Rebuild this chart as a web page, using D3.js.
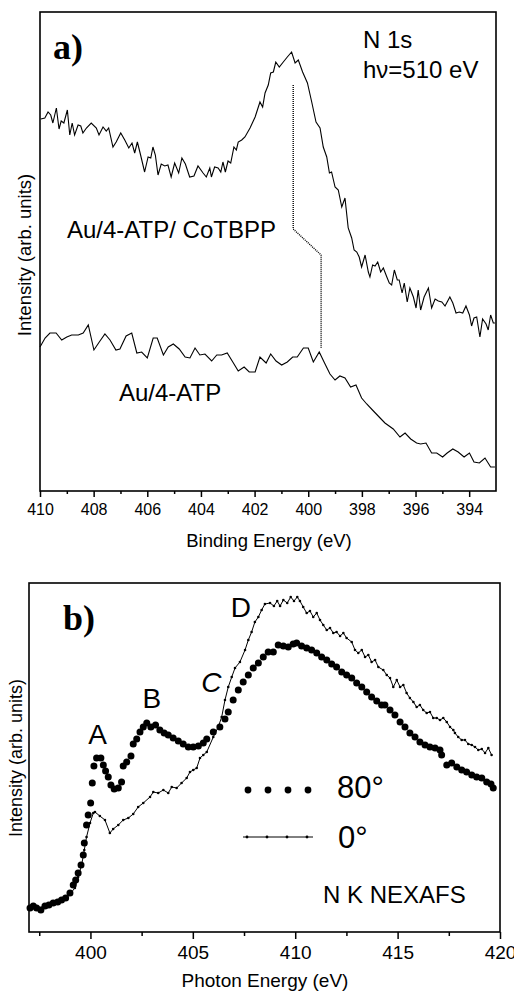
<!DOCTYPE html>
<html>
<head>
<meta charset="utf-8">
<script src="https://cdn.jsdelivr.net/npm/d3@7"></script>
<style>
body { margin: 0; background: #fff; }
text { font-family: "Liberation Sans", Arial, sans-serif; fill: #000; }
</style>
</head>
<body>
<div class="d3"></div>
<script>
// panel a: N 1s XPS, binding energy (eV) vs intensity (arb. units)
var cotbppE = [409.97,409.82,409.70,409.60,409.52,409.39,409.29,409.21,409.11,408.98,408.89,408.80,408.71,408.58,408.48,408.40,408.27,408.09,407.90,407.80,407.65,407.53,407.44,407.28,407.16,406.99,406.84,406.69,406.57,406.47,406.37,406.25,406.10,405.97,405.87,405.79,405.70,405.60,405.48,405.35,405.23,405.11,404.98,404.83,404.71,404.58,404.42,404.26,404.11,403.92,403.80,403.67,403.61,403.49,403.36,403.26,403.18,403.09,402.99,402.89,402.77,402.68,402.61,402.48,402.36,402.17,401.98,401.80,401.70,401.61,401.49,401.40,401.30,401.21,401.08,400.93,400.78,400.62,400.49,400.37,400.21,400.03,399.87,399.71,399.56,399.44,399.31,399.21,399.13,399.00,398.88,398.75,398.63,398.51,398.38,398.29,398.19,398.10,398.01,397.88,397.76,397.70,397.60,397.51,397.41,397.30,397.20,397.07,396.98,396.89,396.79,396.68,396.61,396.50,396.42,396.31,396.21,396.08,395.98,395.90,395.81,395.68,395.52,395.40,395.27,395.15,395.02,394.90,394.72,394.61,394.49,394.37,394.24,394.12,393.99,393.91,393.82,393.72,393.60,393.50,393.37,393.29,393.20,393.10,393.04];
var cotbppI = [372,373,379,376,368,383,362,370,368,381,356,368,356,366,365,358,363,368,363,356,364,360,363,344,349,358,351,343,348,338,349,336,319,334,333,344,336,316,327,325,326,314,328,318,333,327,314,315,325,318,314,323,314,324,323,319,329,319,330,328,344,341,349,351,354,363,374,389,384,398,406,418,419,429,424,429,434,439,428,431,419,408,389,369,363,344,334,318,319,304,301,284,293,263,253,241,239,234,224,236,219,214,226,225,229,219,223,214,208,206,221,211,211,198,208,189,203,194,183,201,181,194,203,183,192,190,189,185,194,188,178,179,178,185,176,165,173,174,154,172,167,161,176,168,168];
var atpE = [410.00,409.81,409.63,409.40,409.19,409.00,408.82,408.57,408.39,408.20,407.99,407.79,407.58,407.39,407.17,407.02,406.79,406.58,406.39,406.21,406.00,405.78,405.63,405.40,405.22,405.03,404.81,404.59,404.41,404.22,404.04,403.85,403.60,403.41,403.23,403.02,402.79,402.61,402.39,402.20,401.98,401.80,401.57,401.40,401.20,400.99,400.78,400.58,400.41,400.18,400.00,399.81,399.59,399.41,399.19,399.00,398.82,398.63,398.42,398.22,398.01,397.82,397.57,397.32,397.14,396.83,396.58,396.39,396.18,395.96,395.81,395.61,395.40,395.21,394.99,394.82,394.61,394.41,394.19,393.99,393.82,393.62,393.41,393.20,393.04];
var atpI = [144,153,158,158,151,154,156,156,158,166,141,149,157,151,141,142,155,158,138,139,133,153,153,136,144,147,142,134,133,143,136,137,130,136,136,138,128,120,124,119,119,134,128,137,130,126,129,134,134,143,143,129,139,129,117,111,115,113,104,106,93,87,80,73,68,62,54,58,52,48,47,48,38,38,34,38,42,39,34,38,29,28,33,24,24];
var shiftE = [400.56, 400.56, 399.52, 399.52];
var shiftI = [406, 262, 236, 143];
var aMajor = [410, 408, 406, 404, 402, 400, 398, 396, 394];
var aMinor = [409, 407, 405, 403, 401, 399, 397, 395];

// panel b: N K NEXAFS, photon energy (eV)
var e80 = [397.05,397.21,397.37,397.58,397.78,397.97,398.18,398.40,398.59,398.79,399.00,399.16,399.28,399.40,399.54,399.65,399.70,399.81,399.89,400.01,400.09,400.17,400.30,400.51,400.63,400.74,400.87,401.00,401.16,401.36,401.52,401.60,401.77,401.98,402.09,402.26,402.42,402.58,402.75,402.95,403.18,403.39,403.60,403.80,404.04,404.29,404.53,404.78,405.02,405.27,405.51,405.68,406.00,406.32,406.57,406.73,406.97,407.22,407.46,407.71,407.95,408.20,408.44,408.68,408.93,409.17,409.42,409.66,409.90,410.07,410.31,410.56,410.80,411.05,411.29,411.54,411.78,412.02,412.27,412.51,412.76,413.00,413.25,413.49,413.73,413.98,414.22,414.38,414.63,414.87,415.12,415.36,415.60,415.85,416.09,416.34,416.58,416.83,417.07,417.15,417.40,417.64,417.89,418.13,418.37,418.62,418.86,419.11,419.35,419.56,419.67];
var i80 = [24,26,24,22,26,27,29,30,32,34,39,47,52,59,67,77,89,107,117,129,149,166,174,174,167,161,155,147,143,144,150,166,170,176,188,193,200,205,209,205,207,202,199,197,194,191,188,185,185,186,189,193,200,205,213,220,232,242,250,257,264,269,275,280,280,287,286,285,288,289,286,284,282,279,275,272,268,265,260,257,254,249,245,240,235,231,227,227,222,217,210,205,199,195,190,187,185,184,182,177,167,169,165,162,160,157,155,154,150,148,144];
var e0 = [397.05,397.29,397.53,397.78,398.02,398.27,398.51,398.75,399.00,399.24,399.40,399.57,399.70,399.81,399.98,400.14,400.22,400.46,400.71,400.95,401.11,401.36,401.60,401.85,402.09,402.33,402.58,402.91,403.07,403.31,403.56,403.80,403.97,404.21,404.45,404.70,404.86,405.02,405.19,405.35,405.51,405.68,406.00,406.24,406.41,406.57,406.73,406.90,407.06,407.30,407.55,407.71,407.87,408.03,408.20,408.36,408.52,408.77,408.96,409.12,409.26,409.42,409.61,409.78,409.94,410.10,410.23,410.39,410.56,410.72,410.88,411.05,411.21,411.37,411.54,411.70,411.86,412.02,412.19,412.35,412.51,412.76,412.92,413.08,413.25,413.41,413.57,413.73,413.90,414.06,414.30,414.47,414.63,414.79,414.96,415.12,415.28,415.44,415.60,415.77,415.93,416.09,416.25,416.42,416.58,416.74,416.91,417.07,417.23,417.40,417.56,417.72,417.80,417.96,418.13,418.29,418.45,418.62,418.78,418.94,419.11,419.27,419.43,419.59];
var i0 = [23,26,24,27,28,30,31,34,38,44,55,67,82,95,109,119,120,116,112,99,103,107,112,114,118,125,129,135,140,139,142,139,145,144,149,154,160,162,164,174,177,180,195,205,215,232,245,255,264,270,282,292,300,310,315,322,328,329,326,331,326,332,329,335,331,335,331,325,319,321,315,319,312,307,302,304,299,300,296,299,294,290,282,279,282,275,277,270,272,265,262,257,254,245,252,245,247,239,234,230,225,227,222,219,220,214,214,212,214,210,205,202,199,195,192,192,188,187,185,182,183,179,184,177];
var bMajor = [400, 405, 410, 415, 420];
var bMinor = [397.5, 402.5, 407.5, 412.5, 417.5];

var width = 514, height = 993;

var svg = d3.select(".d3").append("svg")
    .attr("width", width)
    .attr("height", height);

// ---------- panel a ----------
var xa = d3.scaleLinear().domain([410, 393]).range([40, 496]);
var ya = d3.scaleLinear().domain([0, 479]).range([491, 12]);

var lineA = d3.line()
    .x(function(d) { return xa(d[0]); })
    .y(function(d) { return ya(d[1]); });

var ga = svg.append("g").attr("class", "panel-a");

ga.append("path")
    .datum(d3.zip(cotbppE, cotbppI))
    .attr("d", lineA)
    .attr("fill", "none")
    .attr("stroke", "#000")
    .attr("stroke-width", 1.1);

ga.append("path")
    .datum(d3.zip(atpE, atpI))
    .attr("d", lineA)
    .attr("fill", "none")
    .attr("stroke", "#000")
    .attr("stroke-width", 1.1);

ga.append("path")
    .datum(d3.zip(shiftE, shiftI))
    .attr("d", lineA)
    .attr("fill", "none")
    .attr("stroke", "#000")
    .attr("stroke-width", 1.4)
    .attr("stroke-dasharray", "1,1");

ga.append("g")
    .attr("transform", "translate(0," + ya(0) + ")")
    .call(d3.axisBottom(xa).tickValues(aMajor).tickFormat(d3.format("d"))
        .tickSize(6).tickSizeOuter(0).tickPadding(7))
    .call(function(g) { g.select(".domain").remove(); })
    .call(function(g) {
        g.selectAll("line").attr("stroke-width", 1.5);
        g.selectAll("text").style("font-family", "Liberation Sans, Arial, sans-serif").style("font-size", "16px");
    });

ga.append("g")
    .attr("transform", "translate(0," + ya(0) + ")")
    .call(d3.axisBottom(xa).tickValues(aMinor).tickFormat("").tickSize(3).tickSizeOuter(0))
    .call(function(g) { g.select(".domain").remove(); g.selectAll("line").attr("stroke-width", 1.5); });

ga.append("rect")
    .attr("x", xa(410)).attr("y", ya(479))
    .attr("width", xa(393) - xa(410)).attr("height", ya(0) - ya(479))
    .attr("fill", "none").attr("stroke", "#000").attr("stroke-width", 1.6);

ga.append("text").attr("x", 53).attr("y", 59)
    .style("font-family", "Liberation Serif, Times New Roman, serif")
    .style("font-weight", "bold").style("font-size", "36px")
    .text("a)");
ga.append("text").attr("x", 363).attr("y", 48).style("font-size", "24px").text("N 1s");
ga.append("text").attr("x", 363).attr("y", 78).style("font-size", "24px").text("h\u03bd=510 eV");
ga.append("text").attr("x", 67).attr("y", 238).style("font-size", "24px").text("Au/4-ATP/ CoTBPP");
ga.append("text").attr("x", 119).attr("y", 401).style("font-size", "24px").text("Au/4-ATP");

ga.append("text")
    .attr("x", 269).attr("y", 547)
    .attr("text-anchor", "middle")
    .style("font-size", "18.5px")
    .text("Binding Energy (eV)");

ga.append("text")
    .attr("transform", "translate(31,255) rotate(-90)")
    .attr("text-anchor", "middle")
    .style("font-size", "18.5px")
    .text("Intensity (arb. units)");

// ---------- panel b ----------
var xb = d3.scaleLinear().domain([397, 420]).range([29, 500]);
var yb = d3.scaleLinear().domain([0, 349]).range([932, 583]);

var lineB = d3.line()
    .x(function(d) { return xb(d[0]); })
    .y(function(d) { return yb(d[1]); });

var gb = svg.append("g").attr("class", "panel-b");

gb.append("path")
    .datum(d3.zip(e0, i0))
    .attr("d", lineB)
    .attr("fill", "none")
    .attr("stroke", "#000")
    .attr("stroke-width", 1);

gb.selectAll(".dot0")
    .data(d3.zip(e0, i0))
  .enter().append("circle")
    .attr("class", "dot0")
    .attr("cx", function(d) { return xb(d[0]); })
    .attr("cy", function(d) { return yb(d[1]); })
    .attr("r", 1.3)
    .attr("fill", "#000");

gb.selectAll(".dot80")
    .data(d3.zip(e80, i80))
  .enter().append("circle")
    .attr("class", "dot80")
    .attr("cx", function(d) { return xb(d[0]); })
    .attr("cy", function(d) { return yb(d[1]); })
    .attr("r", 3.5)
    .attr("fill", "#000");

gb.append("g")
    .attr("transform", "translate(0," + yb(0) + ")")
    .call(d3.axisBottom(xb).tickValues(bMajor).tickFormat(d3.format("d"))
        .tickSize(7).tickSizeOuter(0).tickPadding(6.5))
    .call(function(g) { g.select(".domain").remove(); })
    .call(function(g) {
        g.selectAll("line").attr("stroke-width", 1.5);
        g.selectAll("text").style("font-family", "Liberation Sans, Arial, sans-serif").style("font-size", "19px");
    });

gb.append("g")
    .attr("transform", "translate(0," + yb(0) + ")")
    .call(d3.axisBottom(xb).tickValues(bMinor).tickFormat("").tickSize(4).tickSizeOuter(0))
    .call(function(g) { g.select(".domain").remove(); g.selectAll("line").attr("stroke-width", 1.5); });

gb.append("rect")
    .attr("x", xb(397)).attr("y", yb(349))
    .attr("width", xb(420) - xb(397)).attr("height", yb(0) - yb(349))
    .attr("fill", "none").attr("stroke", "#000").attr("stroke-width", 1.6);

gb.append("text").attr("x", 63).attr("y", 630)
    .style("font-family", "Liberation Serif, Times New Roman, serif")
    .style("font-weight", "bold").style("font-size", "36px")
    .text("b)");

var peaks = [
    {t: "A", e: 400.35, i: 188, italic: false},
    {t: "B", e: 403.0, i: 224, italic: false},
    {t: "C", e: 405.9, i: 240, italic: true},
    {t: "D", e: 407.35, i: 315, italic: false}
];
gb.selectAll(".peak")
    .data(peaks)
  .enter().append("text")
    .attr("class", "peak")
    .attr("x", function(d) { return xb(d.e); })
    .attr("y", function(d) { return yb(d.i); })
    .attr("text-anchor", "middle")
    .style("font-size", "28px")
    .style("font-style", function(d) { return d.italic ? "italic" : "normal"; })
    .text(function(d) { return d.t; });

// legend
var legend = gb.append("g").attr("transform", "translate(243,790)");
legend.selectAll(".ld80")
    .data([5, 25, 45, 65])
  .enter().append("circle")
    .attr("cx", function(d) { return d; })
    .attr("cy", 0)
    .attr("r", 3.4)
    .attr("fill", "#000");
legend.append("text").attr("x", 94).attr("y", 8).style("font-size", "31px").text("80\u00b0");
legend.append("line")
    .attr("x1", 0).attr("x2", 70).attr("y1", 47).attr("y2", 47)
    .attr("stroke", "#000").attr("stroke-width", 1);
legend.selectAll(".ld0")
    .data([4, 24, 44, 64])
  .enter().append("circle")
    .attr("cx", function(d) { return d; })
    .attr("cy", 47)
    .attr("r", 1.4)
    .attr("fill", "#000");
legend.append("text").attr("x", 95).attr("y", 58).style("font-size", "31px").text("0\u00b0");

gb.append("text").attr("x", 323).attr("y", 903).style("font-size", "24px").text("N K NEXAFS");

gb.append("text")
    .attr("x", 265).attr("y", 987)
    .attr("text-anchor", "middle")
    .style("font-size", "19px")
    .text("Photon Energy (eV)");

gb.append("text")
    .attr("transform", "translate(22,758) rotate(-90)")
    .attr("text-anchor", "middle")
    .style("font-size", "18px")
    .text("Intensity (arb. units)");
</script>
</body>
</html>
